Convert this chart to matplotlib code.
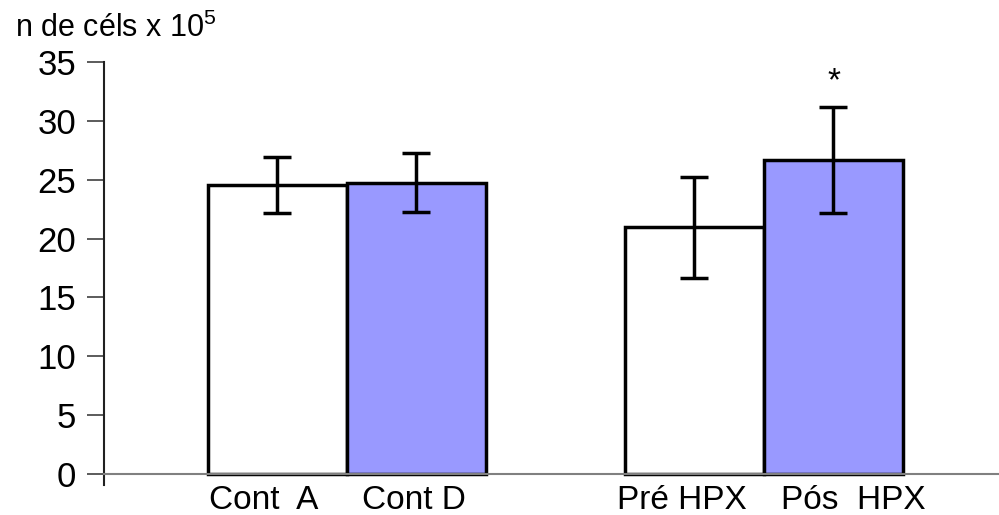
import numpy as np
import matplotlib.pyplot as plt

# data
labels = ['Cont  A', 'Cont D', 'Pré HPX', 'Pós  HPX']
positions = [0, 1, 3, 4]
means = [24.55, 24.75, 20.95, 26.65]
errs = [2.4, 2.5, 4.3, 4.5]
colors = ['white', '#9999ff', 'white', '#9999ff']

# the labels sit a bit off the bar centres in the original
label_shift = [-0.10, -0.02, -0.09, 0.14]

plt.rcParams['font.family'] = ['Liberation Sans', 'DejaVu Sans']
plt.rcParams['mathtext.fontset'] = 'custom'
plt.rcParams['mathtext.rm'] = 'Liberation Sans'

fig = plt.figure(figsize=(9.99, 5.15), dpi=100)
ax = fig.add_axes([104/999, 30/515, 895/999, 423/515])

ax.bar(positions, means, width=1.0, color=colors, edgecolor='black',
       linewidth=2.5, zorder=2)
ax.errorbar(positions, means, yerr=errs, fmt='none', ecolor='black',
            elinewidth=2.5, capsize=10, capthick=2.5, zorder=3)

# significance mark
ax.text(4, 33.3, '*', ha='center', va='center', fontsize=24)

ax.set_xlim(-1.245, 5.19)
ax.set_ylim(-0.93, 35)
ax.set_yticks(np.arange(0, 36, 5))
ax.set_xticks([p + s for p, s in zip(positions, label_shift)])
ax.set_xticklabels(labels)
ax.tick_params(axis='x', length=0, pad=8, labelsize=24)
ax.tick_params(axis='y', length=12, width=1.2, color='#404040',
               labelsize=25, pad=8)

ax.spines['top'].set_visible(False)
ax.spines['right'].set_visible(False)
ax.spines['bottom'].set_position(('data', 0))
ax.spines['bottom'].set_color('#808080')
ax.spines['bottom'].set_linewidth(1.5)
ax.spines['left'].set_color('#202020')
ax.spines['left'].set_linewidth(1.5)

fig.text(15/999, 1 - 37/515, r'n de céls x 10$^{\mathrm{5}}$', fontsize=22,
         ha='left', va='baseline')

plt.savefig('out.png', dpi=100)
